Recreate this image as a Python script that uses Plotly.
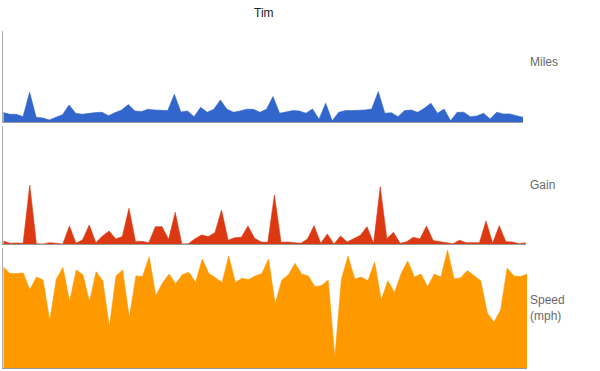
import plotly.graph_objects as go

title = "Tim"
series_names = ["Miles", "Gain", "Speed<br>(mph)"]

miles = [10.6, 8.8, 8.8, 6.2, 32.9, 5.5, 4.8, 2.6, 5.5, 8.4,
         19.0, 9.9, 8.8, 9.9, 10.6, 11.0, 7.3, 10.6, 13.5, 19.4,
         12.4, 11.7, 14.3, 13.5, 13.5, 12.8, 30.7, 11.3, 12.4, 6.2,
         16.5, 11.0, 14.3, 24.5, 14.3, 11.0, 12.4, 14.3, 14.3, 11.0,
         14.3, 28.2, 9.9, 11.7, 12.8, 12.4, 9.9, 14.6, 3.3, 20.9,
         1.8, 11.0, 12.8, 12.8, 12.8, 13.5, 14.6, 33.7, 9.9, 10.5,
         6.2, 12.8, 13.5, 11.0, 15.4, 20.9, 9.9, 14.6, 1.8, 11.0,
         11.0, 6.2, 7.0, 9.9, 3.7, 11.0, 9.2, 9.2, 7.3, 5.5]

gain = [112, 34, 45, 34, 2000, 22, 11, 56, 34, 11,
        618, 34, 157, 652, 56, 281, 450, 180, 259, 1214,
        90, 101, 56, 596, 596, 169, 1079, 11, 22, 191,
        315, 259, 393, 1158, 135, 225, 236, 618, 202, 80,
        67, 1664, 67, 79, 56, 34, 180, 629, 34, 348,
        11, 281, 79, 202, 303, 596, 34, 1944, 191, 405,
        34, 90, 236, 180, 618, 124, 101, 56, 22, 135,
        56, 56, 56, 787, 34, 629, 90, 79, 22, 56]

speed = [16.9, 15.8, 15.8, 15.9, 13.1, 15.2, 14.7, 7.9, 14.9, 16.8,
         11.1, 16.4, 15.6, 11.1, 16.1, 14.6, 6.9, 15.4, 16.4, 8.4,
         15.4, 15.3, 18.6, 12.1, 14.2, 15.7, 14.1, 15.6, 16.0, 14.3,
         18.2, 15.8, 15.1, 14.3, 18.7, 14.3, 15.0, 14.8, 15.4, 15.8,
         18.2, 10.7, 14.7, 15.6, 17.5, 15.7, 15.4, 13.6, 13.8, 14.7,
         1.8, 14.9, 18.7, 14.9, 15.2, 14.6, 17.7, 11.4, 14.6, 12.6,
         15.8, 17.9, 15.2, 15.7, 13.6, 15.7, 15.2, 19.7, 14.9, 15.1,
         16.3, 15.4, 14.6, 9.2, 7.7, 9.7, 16.7, 15.4, 15.3, 15.7]

x = list(range(len(speed)))

W, H = 600, 371
colors = ["#3366cc", "#dc3912", "#ff9900"]
values = [miles, gain, speed]
yranges = [[0, 100], [0, 4000], [0, 20]]
# pixel extents (left, right, top, bottom)
px = [(3.3, 523.0, 31.0, 122.3), (3.3, 525.7, 125.7, 244.3), (3.3, 527.1, 248.3, 368.3)]

fig = go.Figure()
layout = dict(
    width=W, height=H,
    margin=dict(l=0, r=0, t=0, b=0),
    paper_bgcolor="white", plot_bgcolor="white",
    showlegend=False,
    font=dict(family="Arial, Liberation Sans, sans-serif", size=12, color="#444"),
)
for k in range(3):
    xa = "x" if k == 0 else f"x{k+1}"
    ya = "y" if k == 0 else f"y{k+1}"
    fig.add_trace(go.Scatter(
        x=x, y=values[k], xaxis=xa, yaxis=ya, mode="lines",
        line=dict(color=colors[k], width=0.6), fill="tozeroy",
        fillcolor=colors[k], hoverinfo="skip"))
    l, r, t, b = px[k]
    xkey = "xaxis" if k == 0 else f"xaxis{k+1}"
    ykey = "yaxis" if k == 0 else f"yaxis{k+1}"
    layout[xkey] = dict(domain=[l / W, r / W], range=[0, len(x) - 1],
                        showgrid=False, zeroline=False, showticklabels=False,
                        ticks="", showline=True, linecolor="#999", linewidth=1,
                        anchor=ya, fixedrange=True)
    layout[ykey] = dict(domain=[(H - b) / H, (H - t) / H], range=yranges[k],
                        showgrid=False, zeroline=False, showticklabels=False,
                        ticks="", showline=True, linecolor="#aaa", linewidth=1,
                        anchor=xa, fixedrange=True)
fig.update_layout(**layout)

label_y = [62, 185, 308]
for name, yy in zip(series_names, label_y):
    fig.add_annotation(text=name, xref="paper", yref="paper",
                       x=528 / W, y=(H - yy) / H, xanchor="left", yanchor="middle",
                       showarrow=False, align="left",
                       font=dict(size=12, color="#6a6a6a"))

fig.add_annotation(text=title, xref="paper", yref="paper",
                   x=264 / W, y=(H - 13) / H, xanchor="center", yanchor="middle",
                   showarrow=False, font=dict(size=12, color="#222"))

fig.write_html("out.html", config={"displayModeBar": False},
               post_script="document.body.style.margin='0px';document.body.style.overflow='hidden';")
